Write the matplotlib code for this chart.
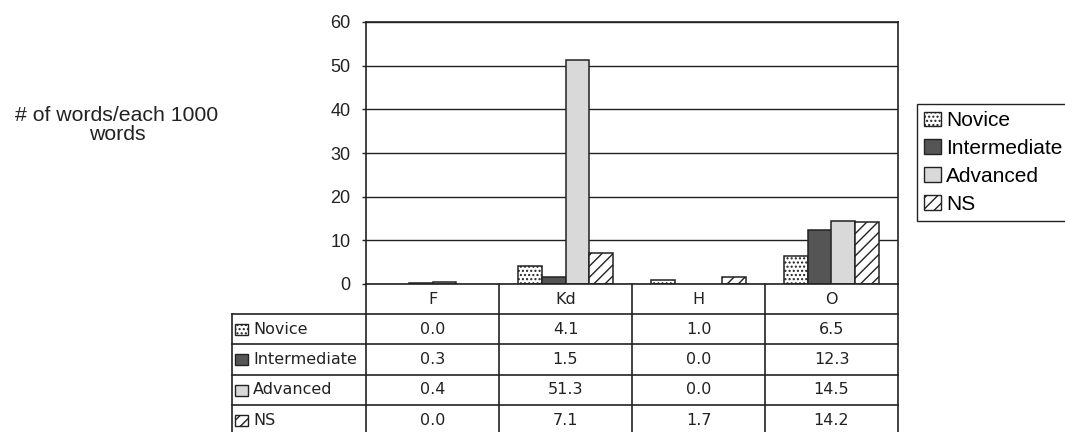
import matplotlib
matplotlib.use("Agg")
import matplotlib.pyplot as plt
from matplotlib.patches import Rectangle, Patch
from matplotlib.lines import Line2D

categories = ["F", "Kd", "H", "O"]
series = ["Novice", "Intermediate", "Advanced", "NS"]
novice = [0.0, 4.1, 1.0, 6.5]
intermediate = [0.3, 1.5, 0.0, 12.3]
advanced = [0.4, 51.3, 0.0, 14.5]
ns = [0.0, 7.1, 1.7, 14.2]
values = [novice, intermediate, advanced, ns]
yticks = [0, 10, 20, 30, 40, 50, 60]
ylabel = "# of words/each 1000\nwords"

styles = [
    dict(facecolor="white", hatch="...."),
    dict(facecolor="#555555", hatch=None),
    dict(facecolor="#d9d9d9", hatch=None),
    dict(facecolor="white", hatch="///"),
]

W, H = 1065, 432
fig = plt.figure(figsize=(W / 100, H / 100), dpi=100)


def fx(px):
    return px / W


def fy(py):
    return 1 - py / H


ax_l, ax_r, ax_t, ax_b = 366, 898, 22, 284
ax = fig.add_axes([fx(ax_l), fy(ax_b), fx(ax_r - ax_l), (ax_b - ax_t) / H])
ax.set_xlim(0, len(categories))
ax.set_ylim(0, 60)
ax.set_yticks(yticks)
ax.set_xticks([])
ax.yaxis.grid(True, color="#222222", lw=1.0)
ax.set_axisbelow(True)
for s in ax.spines.values():
    s.set_color("#222222")
    s.set_linewidth(1.2)
ax.tick_params(axis="y", direction="out", length=3, width=1, pad=8,
               labelsize=13, colors="#222222")
for lab in ax.get_yticklabels():
    lab.set_fontfamily(["Liberation Sans", "DejaVu Sans"])

bw = 0.18
handles = []
for j, (name, vals, st) in enumerate(zip(series, values, styles)):
    xs = [i + 0.5 + (j - 1.5) * bw for i in range(len(categories))]
    b = ax.bar(xs, vals, width=bw, facecolor=st["facecolor"], hatch=st["hatch"],
               edgecolor="#222222", linewidth=1.1, label=name)
    for rect, v in zip(b.patches, vals):
        if v == 0:
            rect.set_visible(False)
    handles.append(Patch(facecolor=st["facecolor"], hatch=st["hatch"],
                         edgecolor="#222222", linewidth=1.0, label=name))

leg = ax.legend(handles=handles, loc="upper left",
                bbox_to_anchor=(fx(917), fy(104)), bbox_transform=fig.transFigure,
                borderaxespad=0, fancybox=False, framealpha=1, edgecolor="#222222",
                prop={"family": ["Liberation Sans", "DejaVu Sans"], "size": 15},
                handlelength=0.8, handleheight=0.7, handletextpad=0.25,
                labelspacing=0.42, borderpad=0.35)
leg.get_frame().set_linewidth(1.0)

fig.text(fx(117), fy(125), ylabel, ha="center", va="center", fontsize=15.3,
         family=["Liberation Sans", "DejaVu Sans"], linespacing=1.05,
         multialignment="center", color="#222222")

# table
col_w = (ax_r - ax_l) / len(categories)
col_edges = [ax_l + k * col_w for k in range(len(categories) + 1)]
row_edges = [284, 314, 344, 375, 405, 436]
tab_left = 232
lc = "#222222"


def hline(y, x0, x1):
    fig.add_artist(Line2D([fx(x0), fx(x1)], [fy(y), fy(y)], color=lc, lw=1.2,
                          transform=fig.transFigure))


def vline(x, y0, y1):
    fig.add_artist(Line2D([fx(x), fx(x)], [fy(y0), fy(y1)], color=lc, lw=1.2,
                          transform=fig.transFigure))


for r in row_edges[1:]:
    hline(r, tab_left, ax_r)
vline(tab_left, row_edges[1], row_edges[-1])
for x in col_edges:
    vline(x, row_edges[0], row_edges[-1])

tfont = dict(family=["DejaVu Sans"], fontsize=11.5, color="#222222")
for i, c in enumerate(categories):
    xc = (col_edges[i] + col_edges[i + 1]) / 2
    yc = (row_edges[0] + row_edges[1]) / 2
    fig.text(fx(xc), fy(yc), c, ha="center", va="center", **tfont)

for j, (name, vals, st) in enumerate(zip(series, values, styles)):
    yc = (row_edges[j + 1] + row_edges[j + 2]) / 2
    rect = Rectangle((fx(235), fy(yc + 5.5)), fx(13), 11 / H,
                     transform=fig.transFigure, facecolor=st["facecolor"],
                     hatch=st["hatch"], edgecolor="#222222", linewidth=1.0)
    fig.add_artist(rect)
    fig.text(fx(253), fy(yc), name, ha="left", va="center", **tfont)
    for i, v in enumerate(vals):
        xc = (col_edges[i] + col_edges[i + 1]) / 2
        fig.text(fx(xc), fy(yc), f"{v:.1f}", ha="center", va="center", **tfont)

fig.savefig("out.png", dpi=100)
